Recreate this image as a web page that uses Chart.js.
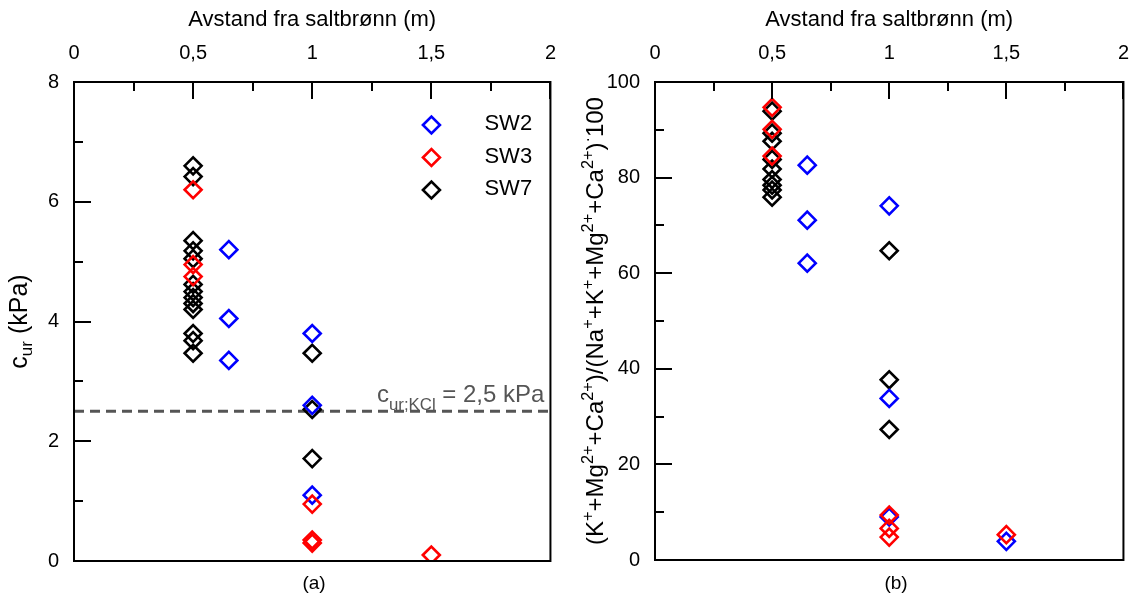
<!DOCTYPE html>
<html>
<head>
<meta charset="utf-8">
<script src="https://cdn.jsdelivr.net/npm/chart.js@4.4.0/dist/chart.umd.min.js"></script>
<style>
  body { margin: 0; background: #fff; width: 1146px; height: 606px; position: relative; overflow: hidden; font-family: "Liberation Sans", Arial, sans-serif; }
  canvas { position: absolute; top: 0; }
  #chartA { left: 0; }
  #chartB { left: 573px; }
  .cap { position: absolute; top: 572px; font-size: 19px; color: #000; width: 60px; text-align: center; }
</style>
</head>
<body>
<canvas id="chartA" width="573" height="606"></canvas>
<canvas id="chartB" width="573" height="606"></canvas>
<div class="cap" style="left:284px">(a)</div>
<div class="cap" style="left:866px">(b)</div>
<script>
// axes
const xTicks = [0, 0.5, 1, 1.5, 2];
const curTicks = [0, 2, 4, 6, 8];
const ionTicks = [0, 20, 40, 60, 80, 100];
const xTitle = "Avstand fra saltbrønn (m)";

// series
const seriesNames = ["SW2", "SW3", "SW7"];
const seriesColors = ["#0000ff", "#ff0000", "#000000"];

// (a) remoulded shear strength c_ur (kPa)
const sw2CurX = [0.65, 0.65, 0.65, 1, 1, 1];
const sw2CurY = [5.2, 4.05, 3.35, 3.8, 2.6, 1.1];
const sw3CurX = [0.5, 0.5, 0.5, 1, 1, 1, 1.5];
const sw3CurY = [6.2, 4.95, 4.75, 0.95, 0.35, 0.3, 0.1];
const sw7CurX = [0.5, 0.5, 0.5, 0.5, 0.5, 0.5, 0.5, 0.5, 0.5, 0.5, 0.5, 0.5, 0.5, 1, 1, 1];
const sw7CurY = [6.6, 6.42, 5.35, 5.18, 5.05, 4.62, 4.5, 4.4, 4.3, 4.2, 3.8, 3.68, 3.47, 3.47, 2.53, 1.71];
const curKcl = 2.5;

// (b) ion ratio
const sw2IonX = [0.65, 0.65, 0.65, 1, 1, 1, 1.5];
const sw2IonY = [82.6, 71.1, 62.1, 74.1, 33.8, 9, 3.9];
const sw3IonX = [0.5, 0.5, 0.5, 1, 1, 1, 1.5];
const sw3IonY = [94.7, 90.1, 84.5, 9.4, 6.6, 4.8, 5.3];
const sw7IonX = [0.5, 0.5, 0.5, 0.5, 0.5, 0.5, 0.5, 0.5, 0.5, 1, 1, 1];
const sw7IonY = [93.9, 89.3, 87.6, 83.8, 81.8, 79.6, 78.4, 77.4, 75.9, 64.7, 37.7, 27.3];

const FONT = '"Liberation Sans", Arial, sans-serif';

function pts(xs, ys) {
  return xs.map((x, i) => ({ x: x, y: ys[i] }));
}

function markerSet(idx, xs, ys, order) {
  return {
    label: seriesNames[idx],
    data: pts(xs, ys),
    showLine: false,
    pointStyle: "rectRot",
    pointRadius: 8.5,
    pointHoverRadius: 8.5,
    pointBorderWidth: 2.6,
    borderColor: seriesColors[idx],
    pointBackgroundColor: "rgba(0,0,0,0)",
    backgroundColor: "rgba(0,0,0,0)",
    order: order,
  };
}

// rich text runs with sub/superscripts
function measureRuns(ctx, runs, size, small) {
  let w = 0;
  runs.forEach((r) => {
    r.fs = r.k ? size * small : size;
    ctx.font = r.fs + "px " + FONT;
    r.w = ctx.measureText(r.t).width;
    w += r.w;
  });
  return w;
}
function paintRuns(ctx, runs, x0, size, subOff, supOff) {
  let x = x0;
  runs.forEach((r) => {
    ctx.font = r.fs + "px " + FONT;
    let dy = 0;
    if (r.k === "sub") dy = size * subOff;
    if (r.k === "sup") dy = -size * supOff;
    ctx.fillText(r.t, x, dy);
    x += r.w;
  });
}

const frame = {
  id: "frame",
  afterDraw(chart, args, o) {
    const ctx = chart.ctx;
    const a = chart.chartArea;
    const xs = chart.scales.x, ys = chart.scales.y;
    ctx.save();
    ctx.strokeStyle = "#000";
    ctx.lineWidth = 2;
    ctx.strokeRect(a.left, a.top, a.right - a.left, a.bottom - a.top);
    ctx.beginPath();
    for (let i = 0; i < xTicks.length; i++) {
      const px = Math.round(xs.getPixelForValue(xTicks[i]));
      ctx.moveTo(px, a.top); ctx.lineTo(px, a.top + 17);
      if (i < xTicks.length - 1) {
        const mx = Math.round(xs.getPixelForValue((xTicks[i] + xTicks[i + 1]) / 2));
        ctx.moveTo(mx, a.top); ctx.lineTo(mx, a.top + 9);
      }
    }
    const yt = o.yTicks;
    for (let i = 0; i < yt.length; i++) {
      const py = Math.round(ys.getPixelForValue(yt[i]));
      ctx.moveTo(a.left, py); ctx.lineTo(a.left + 17, py);
      if (i < yt.length - 1) {
        const my = Math.round(ys.getPixelForValue((yt[i] + yt[i + 1]) / 2));
        ctx.moveTo(a.left, my); ctx.lineTo(a.left + 9, my);
      }
    }
    ctx.stroke();

    // y title
    ctx.fillStyle = "#000";
    ctx.textBaseline = "alphabetic";
    ctx.textAlign = "left";
    const runs = o.yTitle.map((r) => Object.assign({}, r));
    const w = measureRuns(ctx, runs, o.yTitleSize, 0.68);
    ctx.translate(o.yTitleX, (a.top + a.bottom) / 2);
    ctx.rotate(-Math.PI / 2);
    paintRuns(ctx, runs, -w / 2, o.yTitleSize, 0.2, 0.4);
    ctx.restore();

    // legend
    if (o.legend) {
      ctx.save();
      chart.data.datasets.forEach((ds) => {
        const k = seriesNames.indexOf(ds.label);
        if (k < 0) return;
        const cy = a.top + 43 + k * 32.5;
        const cx = a.right - 119;
        ctx.strokeStyle = seriesColors[k];
        ctx.lineWidth = 2.6;
        ctx.beginPath();
        ctx.moveTo(cx - 8.5, cy); ctx.lineTo(cx, cy - 8.5);
        ctx.lineTo(cx + 8.5, cy); ctx.lineTo(cx, cy + 8.5);
        ctx.closePath();
        ctx.stroke();
        ctx.fillStyle = "#000";
        ctx.font = "22px " + FONT;
        ctx.textBaseline = "middle";
        ctx.fillText(seriesNames[k], a.right - 66, cy - 1);
      });
      ctx.restore();
    }

    // c_ur;KCl label
    if (o.kcl) {
      ctx.save();
      ctx.fillStyle = "#555";
      ctx.textBaseline = "alphabetic";
      const r2 = [{ t: "c" }, { t: "ur;KCl", k: "sub" }, { t: " = 2,5 kPa" }];
      measureRuns(ctx, r2, 24, 0.7);
      ctx.translate(377, ys.getPixelForValue(curKcl) - 9);
      paintRuns(ctx, r2, 0, 24, 0.3, 0.4);
      ctx.restore();
    }
  },
};

function makeChart(id, datasets, yMax, yTicks, padRight, padBottom, yWidth, extra) {
  return new Chart(document.getElementById(id).getContext("2d"), {
    type: "scatter",
    data: { datasets: datasets },
    options: {
      responsive: false,
      animation: false,
      events: [],
      layout: { padding: { left: 0, right: padRight, top: 0, bottom: padBottom } },
      plugins: {
        legend: { display: false },
        tooltip: { enabled: false },
        frame: Object.assign({ yTicks: yTicks }, extra),
      },
      scales: {
        x: {
          type: "linear",
          position: "top",
          min: 0,
          max: 2,
          afterBuildTicks: (s) => { s.ticks = xTicks.map((v) => ({ value: v })); },
          afterFit: (s) => { s.height = 82; },
          grid: { display: false, drawTicks: false },
          border: { display: false },
          ticks: {
            color: "#000",
            padding: 17,
            maxRotation: 0,
            font: { family: FONT, size: 20 },
            callback: (v) => String(v).replace(".", ","),
          },
          title: {
            display: true,
            text: xTitle,
            color: "#000",
            font: { family: FONT, size: 22 },
            padding: { top: 7, bottom: 0 },
          },
        },
        y: {
          type: "linear",
          min: 0,
          max: yMax,
          afterBuildTicks: (s) => { s.ticks = yTicks.map((v) => ({ value: v })); },
          afterFit: (s) => { s.width = yWidth; },
          grid: { display: false, drawTicks: false },
          border: { display: false },
          ticks: {
            color: "#000",
            padding: 15,
            font: { family: FONT, size: 20 },
          },
        },
      },
    },
    plugins: [frame],
  });
}

makeChart(
  "chartA",
  [
    markerSet(1, sw3CurX, sw3CurY, 1),
    markerSet(0, sw2CurX, sw2CurY, 2),
    markerSet(2, sw7CurX, sw7CurY, 3),
    {
      label: "kcl",
      data: pts([0, 2], [curKcl, curKcl]),
      showLine: true,
      borderColor: "#555",
      borderWidth: 3,
      borderDash: [10, 6],
      pointRadius: 0,
      order: 4,
    },
  ],
  8, curTicks, 18, 45, 74,
  {
    legend: true,
    kcl: true,
    yTitleX: 27,
    yTitleSize: 25,
    yTitle: [{ t: "c" }, { t: "ur", k: "sub" }, { t: " (kPa)" }],
  }
);

makeChart(
  "chartB",
  [
    markerSet(1, sw3IonX, sw3IonY, 1),
    markerSet(0, sw2IonX, sw2IonY, 2),
    markerSet(2, sw7IonX, sw7IonY, 3),
  ],
  100, ionTicks, 10, 46, 82,
  {
    legend: false,
    kcl: false,
    yTitleX: 30,
    yTitleSize: 24,
    yTitle: [
      { t: "(K" }, { t: "+", k: "sup" }, { t: "+Mg" }, { t: "2+", k: "sup" },
      { t: "+Ca" }, { t: "2+", k: "sup" }, { t: ")/(Na" }, { t: "+", k: "sup" },
      { t: "+K" }, { t: "+", k: "sup" }, { t: "+Mg" }, { t: "2+", k: "sup" },
      { t: "+Ca" }, { t: "2+", k: "sup" }, { t: ")" }, { t: "·", k: "sup" }, { t: "100" },
    ],
  }
);
</script>
</body>
</html>
